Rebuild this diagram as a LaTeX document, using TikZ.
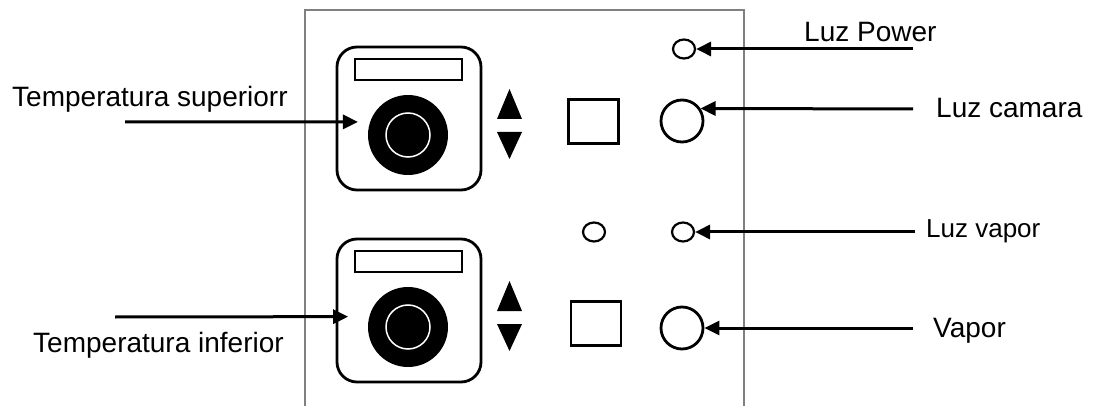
\documentclass[tikz,border=0pt]{standalone}
\usepackage{fontspec}
\setmainfont{Liberation Sans}
\usetikzlibrary{shapes.geometric}
\usetikzlibrary{arrows.meta}

\tikzset{
  lbl/.style={anchor=base west, inner sep=0pt, font=\fontsize{28}{30}\selectfont},
  lamp/.style={draw, ellipse, line width=2.2pt, minimum width=22pt, minimum height=19pt, inner sep=0pt},
  bulb/.style={draw, circle, line width=2.8pt, minimum size=42pt, inner sep=0pt},
  knob/.style={circle, fill=black, minimum size=80pt, inner sep=0pt},
  key/.style={draw, line width=2.8pt, minimum width=50pt, minimum height=44pt, inner sep=0pt},
  ptr/.style={-{Triangle[length=15pt, width=14pt]}, line width=3pt}
}

\begin{document}
\begin{tikzpicture}[x=1pt, y=-1pt]
\useasboundingbox[fill=white] (0,0) rectangle (1103,406);

% panel
\draw[gray, line width=1.6pt] (305,406) -- (305,10) -- (744,10) -- (744,406);

% two controllers
\foreach \y in {0,192} {
  \draw[line width=2.8pt, rounded corners=20pt] (337,47+\y) rectangle (481,190+\y);
  \draw[line width=2.8pt] (355,59+\y) rectangle (462,80+\y);
  \fill (497,119+\y) -- (522,119+\y) -- (509.5,89+\y) -- cycle;
  \fill (497,132+\y) -- (522,132+\y) -- (509.5,159+\y) -- cycle;
}
\node[knob] (knobA) at (408,135) {};
\node[knob] (knobB) at (408,327) {};
\draw[white, line width=1.5pt] (knobA) circle (22);
\draw[white, line width=1.5pt] (knobB) circle (22);

% keys and lamps
\node[key] (keyA) at (593.5,121.5) {};
\node[key] (keyB) at (596,323.5) {};
\node[lamp] (pwr) at (684,49) {};
\node[bulb] (cam) at (682,121) {};
\node[lamp] (lamp2) at (594,232) {};
\node[lamp] (lvap) at (683,232) {};
\node[bulb] (vap) at (682,328) {};

% labels
\node[lbl] (tsup) at (12,107) {Temperatura superiorr};
\node[lbl] (tinf) at (33,352) {Temperatura inferior};
\node[lbl] (power) at (804,42) {Luz Power};
\node[lbl] (camara) at (936,118) {Luz camara};
\node[lbl, font=\fontsize{26}{28}\selectfont] (luzvap) at (926,238) {Luz vapor};
\node[lbl] (vapor) at (933,337) {Vapor};

% arrows
\coordinate (tsup-s) at (125,122);
\coordinate (tinf-s) at (115,317);
\coordinate (power-s) at (913,49);
\coordinate (camara-s) at (913,109);
\coordinate (luzvap-s) at (915,232);
\coordinate (vapor-s) at (913,328);

\draw[ptr, shorten >=12pt] (tsup-s) -- (knobA.161);
\draw[ptr, shorten >=21pt] (tinf-s) -- (knobB.165.5);
\draw[ptr] (power-s) -- (pwr.east);
\draw[ptr] (camara-s) -- (cam.34);
\draw[ptr] (luzvap-s) -- (lvap.east);
\draw[ptr] (vapor-s) -- (vap.east);
\end{tikzpicture}
\end{document}
